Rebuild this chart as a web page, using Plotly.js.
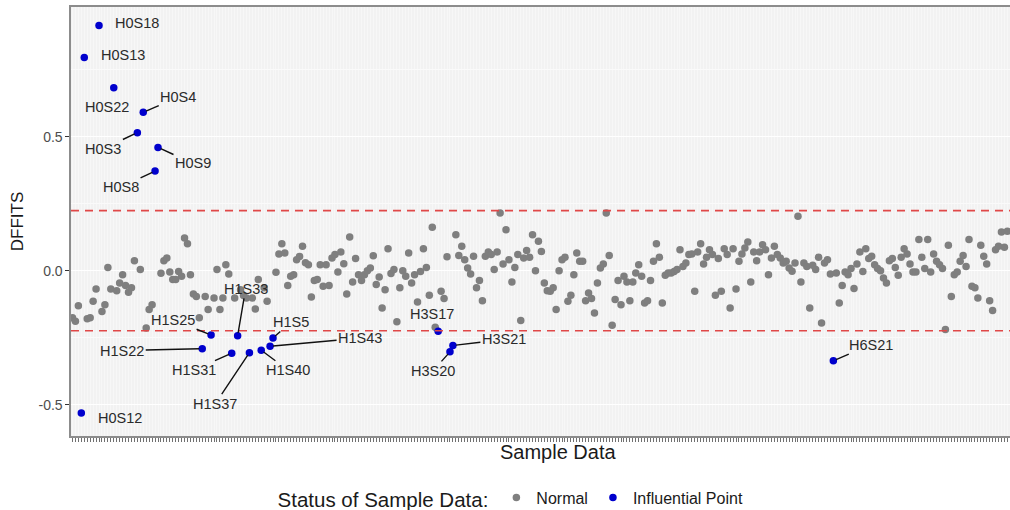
<!DOCTYPE html>
<html>
<head>
<meta charset="utf-8">
<script src="https://cdn.plot.ly/plotly-3.0.1.min.js"></script>
<style>
html,body{margin:0;padding:0;background:#ffffff;}
#chart{width:1010px;height:510px;}
</style>
</head>
<body>
<div id="chart"></div>
<script>
// ---- Data ----
const groupPrefixes = ["H0", "H1", "H2", "H3", "H4", "H5", "H6", "H7"];

const dffitsH0 = [-0.176,-0.189,-0.131,-0.531,0.796,-0.179,-0.176,-0.114,-0.068,0.915,
  -0.152,-0.127,0.012,-0.068,0.683,-0.075,-0.046,-0.015,-0.055,-0.081,
  -0.064,0.037,0.515,0.004,0.591,-0.214,-0.145,-0.127,0.372,0.460];
const dffitsH1 = [-0.010,0.037,0.047,-0.005,-0.033,-0.033,-0.003,-0.021,0.122,0.100,
  -0.015,-0.087,-0.096,-0.176,-0.291,-0.096,-0.145,-0.240,-0.102,0.004,
  -0.145,-0.102,0.022,-0.012,-0.308,-0.102,-0.243,-0.071,-0.093,-0.102,
  -0.306,-0.102,-0.143,-0.033,-0.297,-0.064,-0.114,-0.282,-0.251,-0.006,
  0.062,0.100,0.066];
const dffitsH2 = [-0.055,-0.021,-0.015,0.041,0.053,0.091,0.030,
  0.022,-0.098,-0.037,-0.033,0.022,-0.058,0.022,-0.055,0.047,0.060,
  -0.005,0.070,0.026,-0.087,0.126,-0.042,0.045,-0.015,-0.037,-0.015,
  0.000,0.010,0.056,-0.052,-0.024,-0.139,-0.071,0.082,-0.011,0.004,
  -0.191,-0.064,0.000,-0.021,0.066,-0.046];
const dffitsH3 = [-0.015,-0.117,-0.003,0.082,0.012,-0.092,0.162,-0.211,-0.226,-0.077,
  -0.104,0.052,-0.303,-0.279,0.134,0.057,0.091,0.041,0.010,-0.012,
  0.054,-0.064,-0.037,-0.112,0.054,0.070,0.060,0.004,0.070,0.215,
  0.025,0.153,0.041,-0.042,0.012,0.060,-0.186,0.047,0.075,0.050,
  0.134,0.000,0.110];
const dffitsH4 = [0.072,-0.046,-0.075,-0.077,-0.064,-0.145,0.000,0.041,0.050,-0.114,
  -0.092,-0.015,0.066,0.035,0.035,-0.112,-0.083,-0.104,-0.158,-0.046,
  0.010,0.025,0.215,0.057,-0.204,-0.108,-0.037,-0.127,-0.021,-0.042,
  -0.112,-0.042,-0.009,0.022,-0.021,-0.121,-0.112,-0.037,0.035,0.100,
  0.050,-0.121,-0.017];
const dffitsH5 = [-0.009,-0.009,-0.003,0.004,0.078,0.016,0.029,0.060,0.062,-0.077,
  0.070,0.100,0.025,0.050,0.078,0.060,-0.092,0.045,-0.077,0.082,
  0.060,-0.139,0.082,-0.068,0.035,0.062,0.085,0.107,-0.042,0.070,
  0.037,0.070,0.097,0.078,-0.015,0.047,0.091,0.060,0.047,0.029,
  0.035,0.010,-0.002];
const dffitsH6 = [0.029,0.203,-0.042,0.029,0.016,-0.139,0.020,0.004,0.050,-0.195,
  0.029,0.041,-0.012,-0.336,-0.009,-0.121,-0.055,-0.005,-0.015,0.008,
  -0.067,0.025,0.070,-0.003,0.082,0.045,0.054,0.022,0.008,0.000,
  -0.027,-0.046,0.037,0.045,0.012,-0.017,0.050,0.082,0.062,0.025,
  -0.005,-0.005,0.116];
const dffitsH7 = [0.050,0.008,0.116,-0.005,0.062,0.035,0.022,0.008,-0.220,0.095,
  -0.096,-0.015,-0.005,0.035,0.057,0.016,0.116,-0.058,-0.064,-0.102,
  0.095,0.054,0.025,-0.112,-0.149,0.078,0.091,0.144,0.087,0.147];

const cutoff = 0.224;   // |DFFITS| threshold (dashed lines)

const influentialNames = ["H0S18","H0S13","H0S22","H0S4","H0S3","H0S9","H0S8","H0S12",
  "H1S25","H1S33","H1S22","H1S31","H1S37","H1S40","H1S43","H1S5",
  "H3S17","H3S21","H3S20","H6S21"];

// ---- Build the sample table ----
const groupValues = [dffitsH0, dffitsH1, dffitsH2, dffitsH3, dffitsH4, dffitsH5, dffitsH6, dffitsH7];
const samples = [];
const dffits = [];
groupPrefixes.forEach(function (p, g) {
  const vals = groupValues[g];
  const names = [];
  for (let i = 1; i <= vals.length; i++) names.push(p + "S" + i);
  names.sort();
  names.forEach(function (n, k) { samples.push(n); dffits.push(vals[k]); });
});
const valueOf = {};
samples.forEach(function (s, i) { valueOf[s] = dffits[i]; });

const normX = [], normY = [], inflX = [], inflY = [];
samples.forEach(function (s, i) {
  if (influentialNames.indexOf(s) >= 0) { inflX.push(s); inflY.push(dffits[i]); }
  else { normX.push(s); normY.push(dffits[i]); }
});

// ---- Label placement (pixel offsets of the text from its point) ----
const labelStyle = {
  "H0S18": {ax: 38, ay: -2, seg: false},
  "H0S13": {ax: 39, ay: -2, seg: false},
  "H0S22": {ax: -7, ay: 19, seg: false},
  "H0S4":  {ax: 35, ay: -15, seg: true},
  "H0S3":  {ax: -34, ay: 16, seg: true},
  "H0S9":  {ax: 35, ay: 16, seg: true},
  "H0S8":  {ax: -34, ay: 16, seg: true},
  "H0S12": {ax: 39, ay: 5, seg: false},
  "H1S25": {ax: -38, ay: -15, seg: true},
  "H1S33": {ax: 8, ay: -47, seg: true},
  "H1S22": {ax: -80, ay: 2, seg: true},
  "H1S31": {ax: -38, ay: 17, seg: true},
  "H1S37": {ax: -34, ay: 51, seg: true},
  "H1S40": {ax: 27, ay: 20, seg: true},
  "H1S43": {ax: 90, ay: -8, seg: true},
  "H1S5":  {ax: 18, ay: -16, seg: true},
  "H3S17": {ax: -6, ay: -17, seg: false},
  "H3S21": {ax: 51, ay: -6, seg: true},
  "H3S20": {ax: -17, ay: 19, seg: true},
  "H6S21": {ax: 38, ay: -16, seg: true}
};

const FONT = "Liberation Sans, Arial, Helvetica, sans-serif";

const annotations = influentialNames.map(function (n) {
  const st = labelStyle[n];
  return {
    x: n, y: valueOf[n], xref: "x", yref: "y",
    text: n, showarrow: true, arrowhead: 0,
    arrowwidth: 1.4, arrowcolor: st.seg ? "#111111" : "rgba(0,0,0,0)",
    ax: st.ax, ay: st.ay, standoff: 3,
    font: {family: FONT, size: 14.5, color: "#2a2a2a"}
  };
});
annotations.push({
  text: "Sample Data", xref: "paper", yref: "paper", x: 0.5186, y: -0.037,
  xanchor: "center", yanchor: "middle", showarrow: false,
  font: {family: FONT, size: 20, color: "#1a1a1a"}
});

const traces = [
  {
    type: "scatter", mode: "markers", name: "Normal",
    x: normX, y: normY,
    marker: {color: "#7F7F7F", size: 7.5},
    hovertemplate: "%{x}: %{y}<extra></extra>"
  },
  {
    type: "scatter", mode: "markers", name: "Influential Point",
    x: inflX, y: inflY,
    marker: {color: "#0000CD", size: 7.5},
    hovertemplate: "%{x}: %{y}<extra></extra>"
  }
];

const layout = {
  width: 1010, height: 510,
  margin: {l: 71, r: 0, t: 7, b: 74},
  paper_bgcolor: "#ffffff",
  plot_bgcolor: "#F2F2F2",
  font: {family: FONT, color: "#4d4d4d"},
  xaxis: {
    type: "category", categoryorder: "array", categoryarray: samples,
    range: [-0.5, 317.9],
    tickmode: "linear", tick0: 0, dtick: 1,
    showticklabels: false,
    ticks: "outside", ticklen: 4, tickwidth: 0.7, tickcolor: "#333333",
    showgrid: true, gridcolor: "#FAFAFA", gridwidth: 0.6,
    showline: true, mirror: true, linecolor: "#8C8C8C", linewidth: 1.6,
    zeroline: false, fixedrange: true
  },
  yaxis: {
    range: [-0.617, 0.984],
    tickmode: "array", tickvals: [-0.5, 0, 0.5], ticktext: ["-0.5", "0.0", "0.5"],
    ticks: "outside", ticklen: 4, tickwidth: 1, tickcolor: "#333333",
    tickfont: {family: FONT, size: 14, color: "#4d4d4d"},
    showgrid: true, gridcolor: "#FFFFFF", gridwidth: 1,
    minor: {tickmode: "array", tickvals: [-0.25, 0.25, 0.75], showgrid: true,
            gridcolor: "#FFFFFF", gridwidth: 0.6, ticks: ""},
    zeroline: false,
    showline: true, linecolor: "#8C8C8C", linewidth: 1.6,
    title: {text: "DFFITS", font: {family: FONT, size: 17, color: "#1a1a1a"}, standoff: 10},
    fixedrange: true
  },
  showlegend: true,
  legend: {
    orientation: "h", xref: "paper", x: 0.4697, xanchor: "center",
    yref: "container", y: 0.0216, yanchor: "middle",
    title: {text: "Status of Sample Data:", side: "left",
            font: {family: FONT, size: 20.5, color: "#1a1a1a"}},
    font: {family: FONT, size: 16, color: "#1a1a1a"},
    bgcolor: "rgba(0,0,0,0)"
  },
  shapes: [cutoff, -cutoff].map(function (v) {
    return {
      type: "line", xref: "paper", x0: 0, x1: 1, yref: "y", y0: v, y1: v,
      line: {color: "#E04848", width: 1.6, dash: "8px,6px"}, layer: "above"
    };
  }),
  annotations: annotations
};

Plotly.newPlot("chart", traces, layout, {displayModeBar: false, staticPlot: true});
</script>
</body>
</html>
